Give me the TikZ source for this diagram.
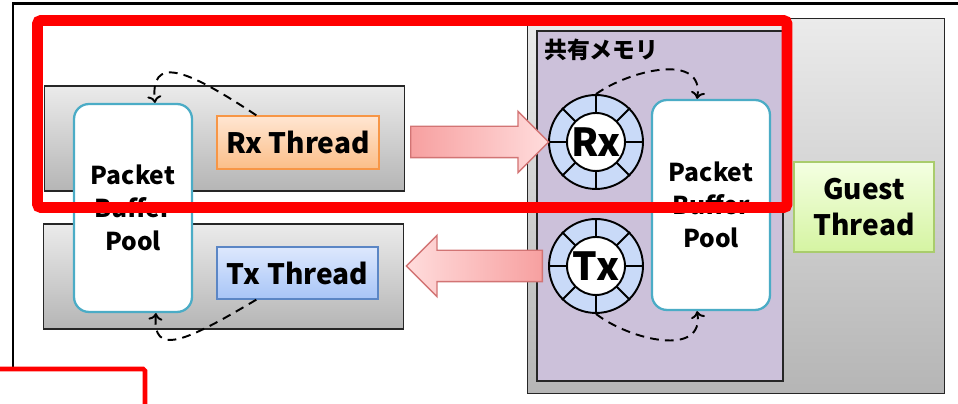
\documentclass[tikz,border=0pt]{standalone}
\usepackage{fontspec}
\setmainfont{Noto Sans CJK JP}
\usetikzlibrary{arrows.meta,shapes.arrows}
\definecolor{hosthi}{HTML}{EBEBEB}
\definecolor{hostlo}{HTML}{B5B5B5}
\definecolor{shmpurple}{HTML}{CCC1DA}
\definecolor{poolteal}{HTML}{4BACC6}
\definecolor{rxedge}{HTML}{F79646}
\definecolor{rxhi}{HTML}{FFE6D2}
\definecolor{rxlo}{HTML}{FBBE88}
\definecolor{txedge}{HTML}{5B86C5}
\definecolor{txhi}{HTML}{DDE8FD}
\definecolor{txlo}{HTML}{A8C5F7}
\definecolor{guestedge}{HTML}{A9CC6C}
\definecolor{guesthi}{HTML}{F4FFE2}
\definecolor{guestlo}{HTML}{D5F4A2}
\definecolor{ringblue}{HTML}{C9DAF8}
\definecolor{pipedark}{HTML}{F7A0A0}
\definecolor{pipelight}{HTML}{FFDCDC}
\definecolor{pipeedge}{HTML}{D27474}
\tikzset{
  host/.style={draw=black!85,line width=0.6pt,top color=hosthi,bottom color=hostlo,inner sep=0pt},
  pool/.style={draw=poolteal,line width=1.3pt,fill=white,rounded corners=0.3cm,align=center,
    minimum width=2.36cm,font=\bfseries\fontsize{14}{18.7}\selectfont},
  thread/.style={line width=0.8pt,inner sep=0pt,font=\bfseries\fontsize{16}{19}\selectfont},
  rxbox/.style={thread,draw=rxedge,top color=rxhi,bottom color=rxlo},
  txbox/.style={thread,draw=txedge,top color=txhi,bottom color=txlo},
  guestbox/.style={thread,draw=guestedge,top color=guesthi,bottom color=guestlo,align=center,
    font=\bfseries\fontsize{16}{20.4}\selectfont},
  ringbase/.style={circle,draw,line width=1.1pt,fill=ringblue,minimum size=1.88cm,inner sep=0pt},
  ringcore/.style={circle,draw,line width=1.1pt,fill=white,minimum size=1.16cm,inner sep=0pt,
    font=\bfseries\fontsize{22}{22}\selectfont},
  spoke/.style={line width=1.1pt},
  pipe/.style={single arrow,draw=pipeedge,line width=0.8pt,inner xsep=0pt,inner ysep=0.3cm,
    minimum width=0pt,single arrow head extend=0.3cm,single arrow tip angle=90,anchor=tail},
  flow/.style={line width=1.1pt,dash pattern=on 5pt off 3.5pt,-{To[length=4pt,width=8pt]}},
  hilite/.style={draw=red,line width=6.2pt,rounded corners=2pt}
}
\begin{document}
\begin{tikzpicture}[x=0.02cm,y=-0.02cm]
\useasboundingbox (0,0) rectangle (958,404);
\draw[line width=1.7pt] (13,369) -- (13,4) -- (958,4);

% host side
\node[host,minimum width=7.22cm,minimum height=2.1cm] (rxhost) at (224.5,138.5) {};
\node[host,minimum width=7.22cm,minimum height=2.1cm] (txhost) at (223.5,276.5) {};
\node[pool,minimum height=4.16cm] (lpool) at (133,208) {Packet\\Buffer\\Pool};
\node[rxbox,minimum width=3.24cm,minimum height=1.06cm] (rxthr) at (298,142.5) {Rx Thread};
\node[txbox,minimum width=3.22cm,minimum height=1.04cm] (txthr) at (297.5,273) {Tx Thread};

% guest side
\node[host,minimum width=8.36cm,minimum height=7.52cm] (guest) at (736,206) {};
\node[draw=black!85,line width=0.8pt,fill=shmpurple,minimum width=4.92cm,minimum height=7cm] (shm) at (660,206) {};
\node[anchor=west,font=\bfseries\fontsize{13}{13}\selectfont,inner sep=0pt] (shmlabel)
  at ([xshift=0.15cm,yshift=-0.4cm]shm.north west) {共有メモリ};
\node[ringbase] (rxring) at (596,142) {};
\node[ringbase] (txring) at (596,266) {};
\foreach \a in {0,45,...,315}{
  \draw[spoke] (rxring.center) -- (rxring.\a);
  \draw[spoke] (txring.center) -- (txring.\a);
}
\node[ringcore] (rxcore) at (rxring) {Rx};
\node[ringcore] (txcore) at (txring) {Tx};
\node[pool,minimum height=4.2cm] (rpool) at (711,205) {Packet\\Buffer\\Pool};
\node[guestbox,minimum width=2.8cm,minimum height=1.8cm] (gthr) at (864,207) {Guest\\Thread};

% queues between host and guest
\node[pipe,minimum height=2.76cm,left color=pipedark,right color=pipelight] (rxpipe) at (410,142) {};
\node[pipe,minimum height=2.72cm,shape border rotate=180,left color=pipelight,right color=pipedark] (txpipe) at (543,266) {};

% buffer recycling
\draw[flow] ([xshift=0.8cm]rxthr.north west) .. controls (185,68) and (150,55) .. ([xshift=0.44cm]lpool.north);
\draw[flow] ([xshift=0.8cm]txthr.south west) .. controls (185,342) and (152,357) .. ([xshift=0.46cm]lpool.south);
\draw[flow] (rxring.north) .. controls (630,70) and (705,52) .. ([xshift=-0.28cm]rpool.north);
\draw[flow] (txring.south) .. controls (630,340) and (705,358) .. ([xshift=-0.28cm]rpool.south);

\draw[hilite] (37.5,20.5) rectangle (787,207.5);
\draw[red,line width=2.6pt,rounded corners=1pt] (-5,369) -- (145,369) -- (145,410);
\end{tikzpicture}
\end{document}
